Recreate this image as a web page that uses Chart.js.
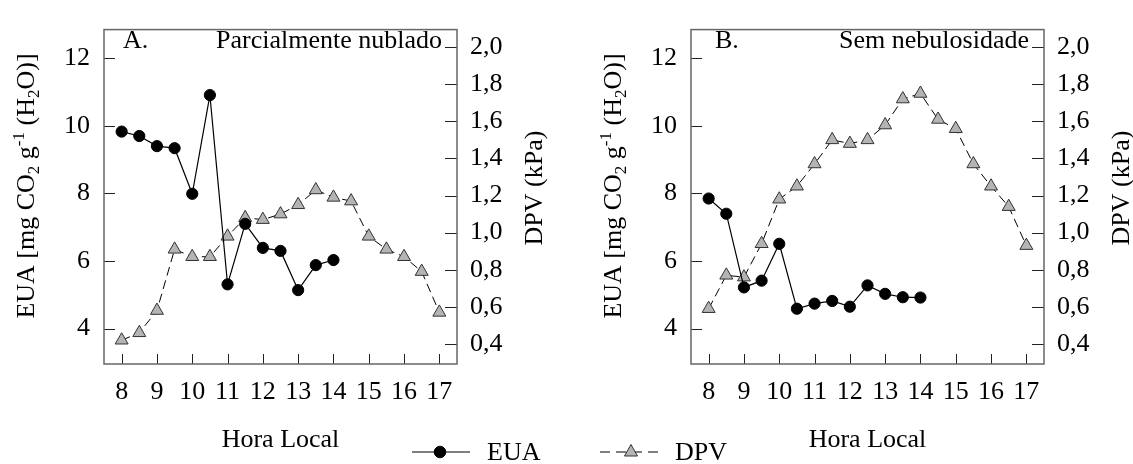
<!DOCTYPE html>
<html>
<head>
<meta charset="utf-8">
<script src="https://cdn.jsdelivr.net/npm/chart.js@4/dist/chart.umd.min.js"></script>
<style>
  html, body { margin: 0; padding: 0; background: #fff; overflow: hidden; }
  #wrap { position: relative; width: 1133px; height: 464px; overflow: hidden; background: #fff; }
  #wrap canvas { position: absolute; top: 0; }
  #cA { left: 0; }
  #cB { left: 587px; }
  #legend { position: absolute; left: 0; top: 0; pointer-events: none; }
</style>
</head>
<body>
<div id="wrap">
  <canvas id="cA" width="566" height="464"></canvas>
  <canvas id="cB" width="566" height="464"></canvas>
  <svg id="legend" width="1133" height="464" xmlns="http://www.w3.org/2000/svg">
    <line x1="412" y1="452" x2="470" y2="452" stroke="#000" stroke-width="1.2"/>
    <circle cx="440" cy="452" r="5.8" fill="#000" stroke="#000" stroke-width="1"/>
    <text x="487" y="460" font-family="'Liberation Serif', 'Times New Roman', serif" font-size="26" fill="#000">EUA</text>
    <line x1="600" y1="452" x2="658" y2="452" stroke="#000" stroke-width="1" stroke-dasharray="10,6"/>
    <polygon points="631,444.5 637.5,456 624.5,456" fill="#b4b4b4" stroke="#333" stroke-width="1"/>
    <text x="675" y="460" font-family="'Liberation Serif', 'Times New Roman', serif" font-size="26" fill="#000">DPV</text>
  </svg>
</div>
<script>
// Hours of measurement (local time)
const euaHours = [8, 8.5, 9, 9.5, 10, 10.5, 11, 11.5, 12, 12.5, 13, 13.5, 14];
const dpvHours = [8, 8.5, 9, 9.5, 10, 10.5, 11, 11.5, 12, 12.5, 13, 13.5, 14, 14.5, 15, 15.5, 16, 16.5, 17];

// A. Parcialmente nublado
const euaA = [9.83, 9.70, 9.40, 9.34, 7.99, 10.91, 5.31, 7.10, 6.39, 6.30, 5.14, 5.88, 6.03];
const dpvA = [0.42, 0.46, 0.58, 0.91, 0.87, 0.87, 0.98, 1.08, 1.07, 1.10, 1.15, 1.23, 1.19, 1.17, 0.98, 0.91, 0.87, 0.79, 0.57];

// B. Sem nebulosidade
const euaB = [7.85, 7.40, 5.22, 5.42, 6.51, 4.59, 4.74, 4.82, 4.65, 5.28, 5.03, 4.93, 4.92];
const dpvB = [0.59, 0.77, 0.76, 0.94, 1.18, 1.25, 1.37, 1.50, 1.48, 1.50, 1.58, 1.72, 1.75, 1.61, 1.56, 1.37, 1.25, 1.14, 0.93];

// Tick values and labels
const hourTicks = [8, 9, 10, 11, 12, 13, 14, 15, 16, 17];
const euaTicks = [4, 6, 8, 10, 12];
const dpvTicks = [0.4, 0.6, 0.8, 1.0, 1.2, 1.4, 1.6, 1.8, 2.0];
const dpvTickLabels = ['0,4', '0,6', '0,8', '1,0', '1,2', '1,4', '1,6', '1,8', '2,0'];

const SERIF = "'Liberation Serif', 'Times New Roman', serif";
const FRAME = '#666';

function richText(ctx, parts, cx, cy) {
  const big = '26px ' + SERIF, small = '17px ' + SERIF;
  let total = 0;
  parts.forEach(p => {
    ctx.font = p[1] === 'n' ? big : small;
    p.w = ctx.measureText(p[0]).width;
    total += p.w;
  });
  ctx.save();
  ctx.translate(cx, cy);
  ctx.rotate(-Math.PI / 2);
  ctx.fillStyle = '#000';
  ctx.textAlign = 'left';
  ctx.textBaseline = 'alphabetic';
  let x = -total / 2;
  parts.forEach(p => {
    ctx.font = p[1] === 'n' ? big : small;
    const dy = p[1] === 'sub' ? 5 : (p[1] === 'sup' ? -10 : 0);
    ctx.fillText(p[0], x, 9 + dy);
    x += p.w;
  });
  ctx.restore();
}

const panelDecor = {
  id: 'panelDecor',
  beforeDatasetsDraw(chart, args, opts) {
    const { ctx, chartArea: a, scales } = chart;
    ctx.save();
    // inward tick marks
    ctx.strokeStyle = '#222';
    ctx.lineWidth = 1;
    ctx.beginPath();
    hourTicks.forEach(v => {
      const px = Math.round(scales.x.getPixelForValue(v)) + 0.5;
      ctx.moveTo(px, a.bottom); ctx.lineTo(px, a.bottom - 10);
    });
    euaTicks.forEach(v => {
      const py = Math.round(scales.y.getPixelForValue(v)) + 0.5;
      ctx.moveTo(a.left, py); ctx.lineTo(a.left + 11, py);
    });
    dpvTicks.forEach(v => {
      const py = Math.round(scales.y2.getPixelForValue(v)) + 0.5;
      ctx.moveTo(a.right, py); ctx.lineTo(a.right - 12, py);
    });
    ctx.stroke();
    // frame
    ctx.strokeStyle = FRAME;
    ctx.lineWidth = 1.5;
    ctx.strokeRect(a.left, a.top, a.right - a.left, a.bottom - a.top);
    ctx.restore();
  },
  afterDraw(chart, args, opts) {
    const { ctx, chartArea: a } = chart;
    ctx.save();
    ctx.fillStyle = '#000';
    ctx.font = '26px ' + SERIF;
    ctx.textBaseline = 'alphabetic';
    // panel letter and sky condition
    ctx.textAlign = 'left';
    ctx.fillText(opts.letter, a.left + opts.letterDx, 48);
    ctx.textAlign = 'right';
    ctx.fillText(opts.caption, a.right - 15, 48);
    // x axis title
    ctx.textAlign = 'center';
    ctx.fillText('Hora Local', (a.left + a.right) / 2, 447);
    // right axis title
    ctx.save();
    ctx.translate(a.right + 78, 188);
    ctx.rotate(-Math.PI / 2);
    ctx.textAlign = 'center';
    ctx.textBaseline = 'middle';
    ctx.fillText('DPV (kPa)', 0, 0);
    ctx.restore();
    // left axis title with sub/superscripts
    richText(ctx, [
      ['EUA [mg CO', 'n'], ['2', 'sub'], [' g', 'n'], ['-1', 'sup'],
      [' (H', 'n'], ['2', 'sub'], ['O)]', 'n']
    ], 25, 186);
    ctx.restore();
  }
};

function makeChart(id, eua, dpv, letter, letterDx, caption) {
  return new Chart(document.getElementById(id), {
    type: 'line',
    data: {
      datasets: [
        {
          label: 'EUA',
          data: euaHours.map((h, i) => ({ x: h, y: eua[i] })),
          yAxisID: 'y',
          borderColor: '#000',
          borderWidth: 1.2,
          pointStyle: 'circle',
          pointRadius: 5.6,
          pointBackgroundColor: '#000',
          pointBorderColor: '#000',
          pointBorderWidth: 1,
          tension: 0,
          fill: false
        },
        {
          label: 'DPV',
          data: dpvHours.map((h, i) => ({ x: h, y: dpv[i] })),
          yAxisID: 'y2',
          borderColor: '#000',
          borderWidth: 1,
          borderDash: [9, 5],
          pointStyle: 'triangle',
          pointRadius: 7.5,
          pointBackgroundColor: '#b4b4b4',
          pointBorderColor: '#333',
          pointBorderWidth: 1,
          tension: 0,
          fill: false
        }
      ]
    },
    options: {
      responsive: false,
      animation: false,
      events: [],
      layout: { padding: { top: 14, left: 0, right: 0, bottom: 0 } },
      plugins: {
        legend: { display: false },
        tooltip: { enabled: false },
        panelDecor: { letter, letterDx, caption }
      },
      scales: {
        x: {
          type: 'linear',
          min: 7.5, max: 17.5,
          afterBuildTicks: s => { s.ticks = hourTicks.map(v => ({ value: v })); },
          afterFit: s => { s.height = 100; },
          grid: { display: false, drawTicks: false },
          border: { display: false },
          ticks: { color: '#000', font: { family: SERIF, size: 26 }, padding: 13, maxRotation: 0, autoSkip: false }
        },
        y: {
          position: 'left',
          min: 2.954, max: 12.848,
          afterBuildTicks: s => { s.ticks = euaTicks.map(v => ({ value: v })); },
          afterFit: s => { s.width = 104; },
          grid: { display: false, drawTicks: false },
          border: { display: false },
          ticks: { color: '#000', font: { family: SERIF, size: 26 }, padding: 14 }
        },
        y2: {
          position: 'right',
          min: 0.2919, max: 2.0943,
          afterBuildTicks: s => { s.ticks = dpvTicks.map(v => ({ value: v })); },
          afterFit: s => { s.width = 109; },
          grid: { display: false, drawTicks: false },
          border: { display: false },
          ticks: {
            color: '#000', font: { family: SERIF, size: 26 }, padding: 13,
            callback: (v, i) => dpvTickLabels[i]
          }
        }
      }
    },
    plugins: [panelDecor]
  });
}

makeChart('cA', euaA, dpvA, 'A.', 19, 'Parcialmente nublado');
makeChart('cB', euaB, dpvB, 'B.', 24, 'Sem nebulosidade');
</script>
</body>
</html>
